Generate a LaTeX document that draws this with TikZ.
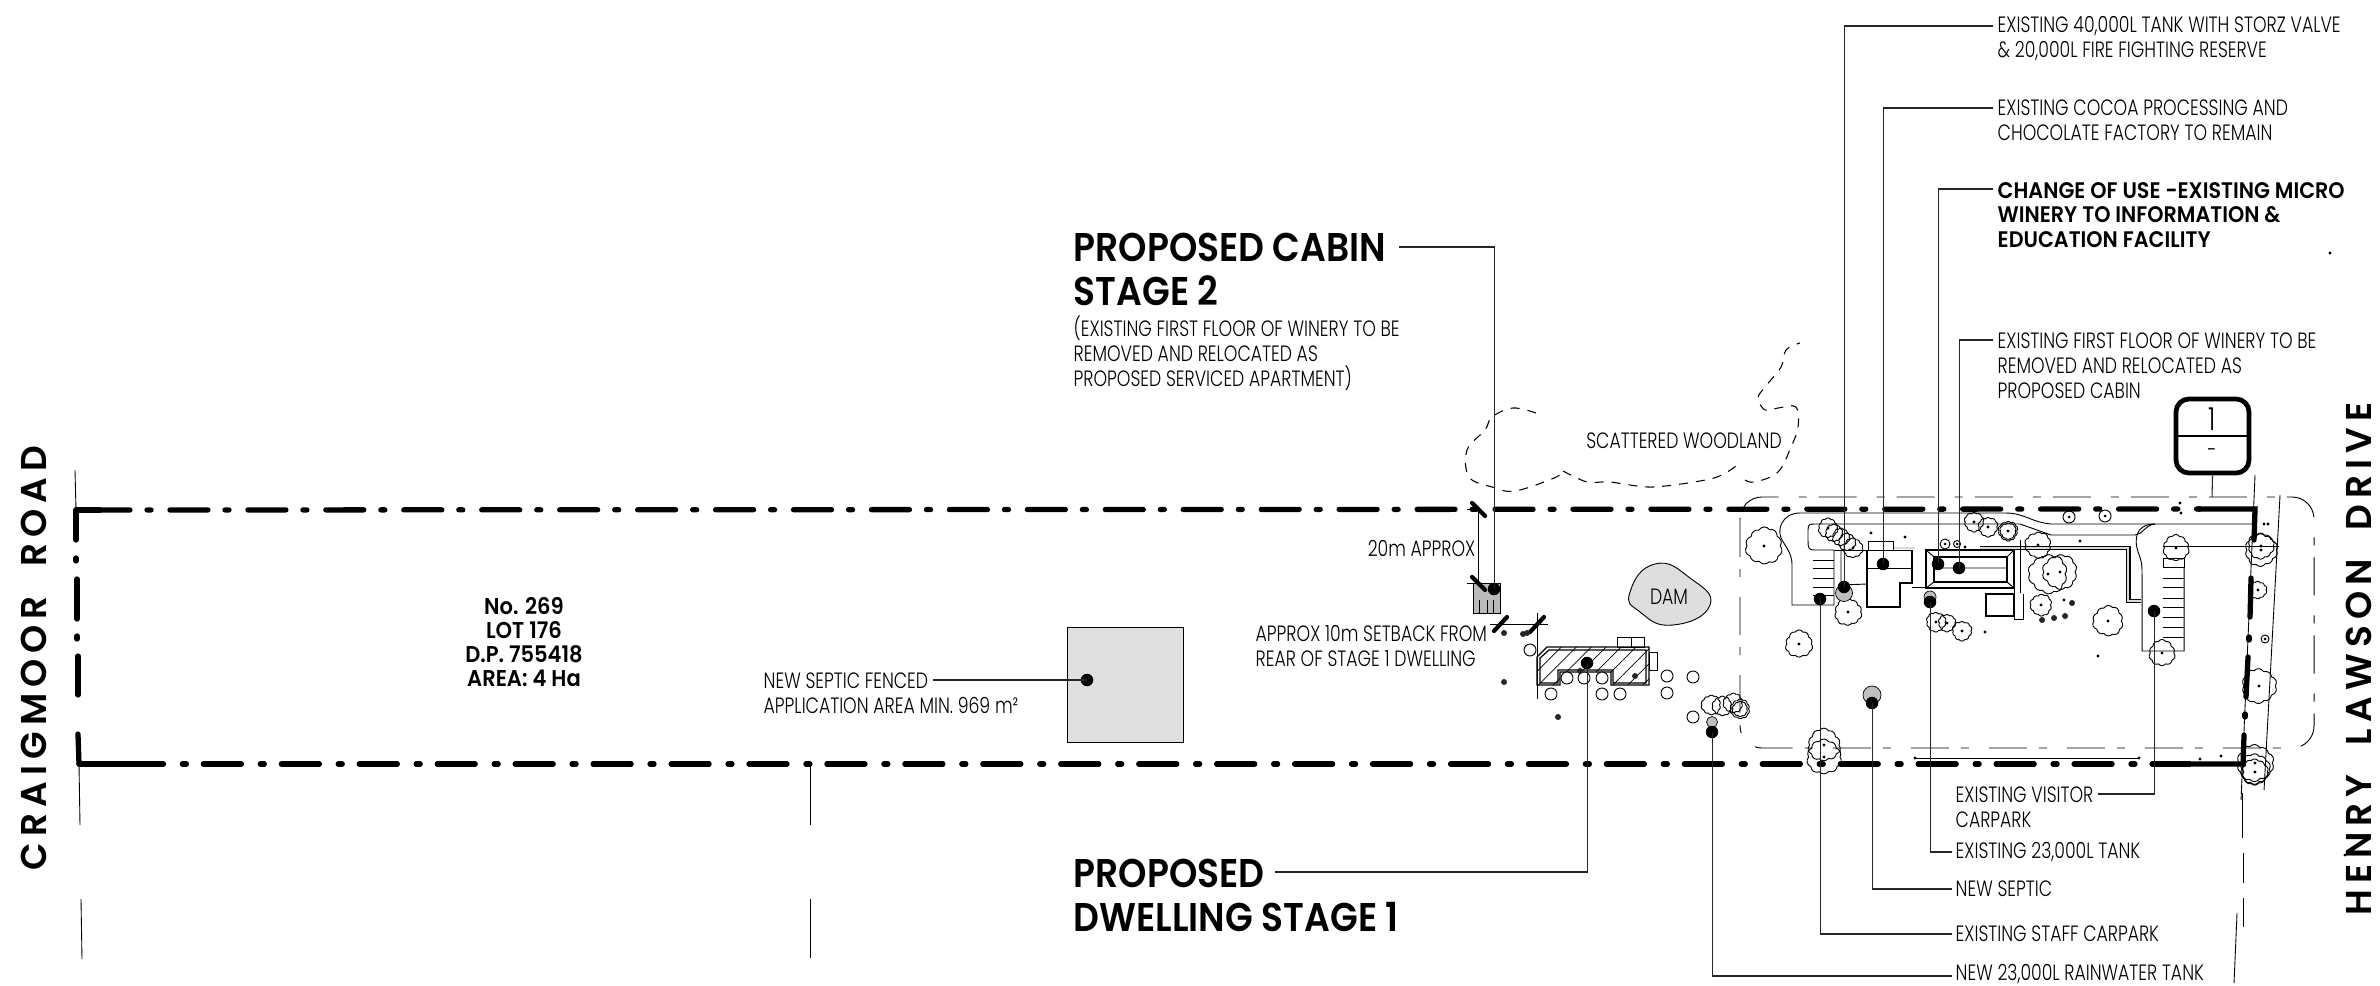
\documentclass[tikz,border=0pt]{standalone}
\usepackage{fontspec}
\usetikzlibrary{patterns.meta}
\setmainfont{Poppins}[UprightFont={* Light},BoldFont={* SemiBold},FakeStretch=0.78]
\newfontfamily\roadfont{Poppins}[UprightFont={* SemiBold},LetterSpace=17,WordSpace=2]
\newfontfamily\headfont{Poppins}[UprightFont={* SemiBold},FakeStretch=0.9]
\newfontfamily\boldnote{Poppins}[UprightFont={* SemiBold},FakeStretch=0.92]
\newcommand{\treePlain}[3]{%
  \draw[thinline] plot[smooth cycle,domain=0:351,samples=40]
    ({#1+#3*(.98+.11*abs(sin(5*\x))+.04*sin(3*\x+#1))*cos(\x)},{#2+#3*(.98+.11*abs(sin(5*\x))+.04*sin(3*\x+#1))*sin(\x)});}
\newcommand{\treeAt}[3]{\treePlain{#1}{#2}{#3}\fill (#1,#2) circle (1.6);}
\tikzset{
  thinline/.style={line width=0.26pt,black},
  leader/.style={line width=0.3pt,black!85},
  bound/.style={line width=1.5pt,line cap=round,dash pattern=on 0.38cm off 0.17cm on 0.04cm off 0.189cm},
  boundsolid/.style={line width=1.5pt,line cap=round},
  setback/.style={line width=0.26pt,dash pattern=on 0.38cm off 0.12cm on 0.08cm off 0.2cm},
  tick/.style={line width=1.2pt,line cap=round},
  leaderdot/.style={circle,fill=black,inner sep=0pt,minimum size=0.125cm},
  tankshade/.style={circle,draw=black,line width=0.2pt,fill=black!25,inner sep=0pt},
  note/.style={anchor=west,align=left,inner sep=0pt,font=\fontsize{6.3}{7.1}\selectfont},
  notebold/.style={anchor=west,align=left,inner sep=0pt,font=\fontsize{6.4}{6.9}\selectfont\boldnote},
  head/.style={anchor=west,align=left,inner sep=0pt,font=\fontsize{11.4}{12.5}\selectfont\headfont},
  lot/.style={align=center,inner sep=0pt,font=\fontsize{6.5}{6.85}\selectfont\boldnote},
  road/.style={rotate=90,inner sep=0pt,font=\fontsize{10.2}{12}\selectfont\roadfont},
  dim/.style={line width=0.25pt,black},
  woods/.style={line width=0.3pt,dash pattern=on 0.09cm off 0.08cm},
}
\begin{document}
\begin{tikzpicture}[x=0.01cm,y=-0.01cm]
\useasboundingbox (0,0) rectangle (2380,985);
\fill[white] (0,0) rectangle (2380,985);

% ---- thin road lines
\draw[dim] (75,470) -- (76,510);
\draw[dim] (79,764) -- (80,825);
\draw[dim] (81,899) -- (82,959);
\draw[dim] (810,764) -- (810,825);
\draw[dim] (810,899) -- (810,958);
\draw[dim] (2255,475) -- (2241,800);
\draw[dim] (2280,495) -- (2264,790);
\draw[dim] (2242,793) -- (2242,838);
\draw[dim] (2243,853) -- (2243,883);
\draw[dim] (2243,898) -- (2243,927);
\draw[dim] (2237,913) -- (2234,983);

% ---- setback line
\draw[setback,rounded corners=0.22cm] (1740,497) rectangle (2314,748);

% ---- boundary
\draw[boundsolid] (76,510) -- (100,510);
\draw[bound] (92,510) -- (2200,509);
\draw[boundsolid] (2198,509) -- (2255,509) -- (2254,540);
\draw[boundsolid] (2251,578) -- (2250,617);
\draw[boundsolid] (2249,637) -- (2249,640);
\draw[boundsolid] (2248,657) -- (2246,697);
\draw[boundsolid] (2245,714) -- (2245,717);
\draw[boundsolid] (2244,735) -- (2243,764) -- (2192,764);
\draw[bound] (2190,764) -- (90,764);
\draw[boundsolid] (79,764) -- (131,764);
\draw[boundsolid] (79,764) -- (78,734);
\draw[boundsolid] (78,695) -- (78,656);
\draw[boundsolid] (77,639) -- (77,636);
\draw[boundsolid] (77,619) -- (77,579);
\draw[boundsolid] (76,561) -- (76,558);
\draw[boundsolid] (76,540) -- (76,510);

% ---- septic square
\draw[thinline,fill=black!12] (1067,627) rectangle (1183,742);

% ---- cabin and dimensions
\draw[thinline,fill=black!27] (1473,583) rectangle (1500,613);
\draw[thinline] (1479,600) -- (1479,613) (1487,600) -- (1487,613) (1493,600) -- (1493,613);
\draw[dim] (1478,509) -- (1478,583);
\draw[dim] (1467,509) -- (1476,509);
\draw[dim] (1467,583) -- (1500,583);
\draw[dim] (1490,624) -- (1548,624);
\draw[dim] (1537,613) -- (1537,699);
\draw[tick] (1472,503) -- (1485,516);
\draw[tick] (1472,577) -- (1485,590);
\draw[tick] (1494,631) -- (1507,617);
\draw[tick] (1530,632) -- (1544,617);

% ---- dam
\draw[thinline,fill=black!13] plot[smooth cycle,tension=0.9] coordinates {(1630,592) (1655,564) (1690,578) (1710,605) (1673,625) (1640,612)};

% ---- dwelling
\draw[line width=0.35pt,pattern={Lines[angle=45,distance=3pt,line width=0.2pt]}] (1537,657) -- (1547,647) -- (1649,647) -- (1649,685) -- (1611,685) -- (1611,672) -- (1560,672) -- (1560,685) -- (1537,685) -- cycle;
\draw[line width=0.35pt] (1540,658) -- (1549,650) -- (1646,650) -- (1646,683) -- (1613,683) -- (1613,670) -- (1558,670) -- (1558,683) -- (1540,683) -- cycle;
\draw[thinline] (1617,647) rectangle (1644,637) (1631,637) -- (1631,647);
\draw[thinline] (1649,652) rectangle (1657,670);
\foreach \cx/\cy in {1530/650,1551/694,1567/678,1584/678,1602/678,1602/694,1620/694,1667/676,1693/677,1667/693,1693/717}
  \draw[thinline,fill=white] (\cx,\cy) circle (6);
\foreach \cx/\cy in {1504/633,1523/634,1527/633,1504/682,1558/717,1580/671,1635/676,2072/603,2042/620,2054/618,2065/616}
  \fill[black!85] (\cx,\cy) circle (3);

% ---- driveway and carparks
\draw[thinline] (2255,524) -- (2051,524) .. controls (2030,522) and (2025,513) .. (2005,513) -- (1800,513) .. controls (1782,513) and (1776,530) .. (1782,540) .. controls (1788,550) and (1792,555) .. (1792,565) -- (1792,605) -- (1834,605) -- (1834,550);
\draw[thinline] (1834,550) -- (1815,550) .. controls (1808,550) and (1808,548) .. (1808,540) -- (1808,530) .. controls (1808,524) and (1810,524) .. (1815,524) -- (2020,524) -- (2051,535) -- (2135,535) .. controls (2142,535) and (2145,525) .. (2155,524);
\draw[thinline] (2155,524) .. controls (2135,524) and (2134,540) .. (2138,552) .. controls (2142,562) and (2142,565) .. (2142,575) -- (2142,651) -- (2184,651) -- (2184,567);
\draw[thinline] (2163,558) rectangle (2184,567);
\foreach \ty in {578,587,598,607,617,627,637}
  \draw[thinline] (2163,\ty) -- (2184,\ty);
\foreach \ty in {560,568,578,587,595}
  \draw[thinline] (1813,\ty) -- (1834,\ty);
\draw[thinline] (2163,546) -- (2279,546);
\draw[thinline] (1915,758) -- (2139,758);
\fill (1915,758) circle (1.6) (2139,758) circle (1.6);
% grey walkway
\draw[line width=1.4pt] (1980,548) -- (2128,548) -- (2128,601) -- (2141,601);
\draw[line width=0.8pt,black!15] (1980,548) -- (2128,548) -- (2128,601) -- (2141,601);
\draw[line width=0.8pt,black!15,draw=black!15] (1893,548) -- (1915,548);
% chocolate factory
\draw[thinline] (1834,550) -- (1912,550);
\draw[line width=0.45pt] (1867,550) -- (1867,607) -- (1900,607) -- (1900,583) -- (1912,583) -- (1912,550);
\draw[thinline] (1868,541) rectangle (1893,550);
\draw[thinline] (1841,550) -- (1841,585) -- (1867,584);
\draw[thinline] (1867,568) -- (1912,568);
\draw[thinline] (1912,587) -- (1926,587);
% winery
\draw[line width=0.7pt,fill=black!2] (1926,550) rectangle (2014,588);
\draw[line width=0.45pt,fill=white] (1934,557) rectangle (2007,582);
\draw[thinline] (1926,550) -- (1934,557) (2014,550) -- (2007,557) (1926,588) -- (1934,582) (2014,588) -- (2007,582) (1934,568) -- (2007,568);
\draw[thinline] (2020,540) -- (2020,593);
\draw[line width=0.4pt] (1986,594) rectangle (2014,616);
\draw[thinline] (2023,594) -- (2023,619) -- (2014,619);
\draw[thinline] (2014,588) -- (2014,619);

% ---- vegetation
\treeAt{1764}{546}{17}
\treeAt{1848}{612}{12.5}
\treeAt{1799}{644}{12.5}
\treeAt{2041}{605}{10}
\treeAt{2108}{621}{14}
\treeAt{2176}{548}{12}
\treeAt{2162}{653}{12}
\treeAt{2038}{545}{12}
\treeAt{2048}{574}{18}
\treeAt{2060}{572}{16}
\treeAt{2261}{550}{15}
\treeAt{2261}{546}{12}
\treeAt{2258}{590}{8}
\treeAt{2259}{686}{16}
\treeAt{2255}{763}{17}
\treePlain{2255}{769}{14}
\treeAt{2255}{772}{12}
\treeAt{1824}{745}{15}
\treeAt{1824}{757}{16}
\treeAt{1828}{528}{9}
\treePlain{1834}{533}{8}
\treePlain{1841}{537}{8}
\treePlain{1847}{542}{8}
\treeAt{1853}{548}{9}
\treeAt{1974}{522}{9}
\treeAt{1988}{527}{9}
\treeAt{2008}{531}{9}
\treePlain{2008}{531}{7.5}
\treeAt{1936}{622}{9}
\treeAt{1947}{623}{8}
\treeAt{1962}{631}{9}
\treePlain{1711}{705}{9}
\treePlain{1722}{706}{9}
\treePlain{1733}{703}{9}
\treePlain{1740}{709}{9}
\treePlain{1740}{709}{7}
\foreach \cx/\cy/\cr in {2069/517/6,2105/516/6,1945/544/5,1957/544/3.5,2265/639/4}{
  \draw[thinline] (\cx,\cy) circle (\cr);
  \fill (\cx,\cy) circle (1.5);}
\foreach \cx/\cy in {1871/533,1905/537,1965/547,2080/541,1985/632,2098/656,2200/759,2221/756,2180/503,2179/509,2181/513,2264/524,2268/524,2064/600,2330/253,2345/855}
  \fill (\cx,\cy) circle (1.6);

% ---- woodland
\draw[woods] plot[smooth,tension=0.6] coordinates {(1536,413) (1513,408) (1492,417) (1485,430) (1467,450) (1469,477) (1492,487) (1515,491) (1554,478) (1563,471)};
\draw[woods] plot[smooth,tension=0.5] coordinates {(1563,471) (1587,482) (1610,482) (1653,487) (1714,478) (1740,463)};
\draw[woods] plot[smooth,tension=0.6] coordinates {(1745,480) (1755,482) (1778,472) (1791,447) (1798,427) (1796,407) (1778,408) (1765,410) (1758,398) (1765,387) (1781,367) (1786,350) (1800,343)};
\node[anchor=center,inner sep=0pt,font=\fontsize{6.3}{7.1}\selectfont] (woodland) at (1684,441) {SCATTERED WOODLAND};

% ---- section marker
\node[draw,line width=1.35pt,rounded corners=0.13cm,minimum width=0.73cm,minimum height=0.74cm,inner sep=0pt] (sec) at (2212.5,436) {};
\draw[line width=0.4pt] (sec.west) -- (sec.east);
\node[inner sep=0pt,font=\fontsize{9}{10}\selectfont] (secn) at (2212,419) {1};
\node[inner sep=0pt,font=\fontsize{6.3}{7.1}\selectfont] (secd) at (2212,453) {-};
\coordinate (secend) at (2212,497);
\draw[leader] (sec.south) -- (secend);

% ---- dots
\node[tankshade,minimum size=0.17cm] (g1) at (1844,593) {};
\node[tankshade,minimum size=0.18cm] (g2) at (1872,695) {};
\node[tankshade,minimum size=0.12cm] (g3) at (1930,597) {};
\node[tankshade,minimum size=0.11cm] (g4) at (1712,722) {};
\node[leaderdot] (d1) at (1844,587) {};
\node[leaderdot] (d2) at (1883,564) {};
\node[leaderdot] (d3) at (1938,564) {};
\node[leaderdot] (d4) at (1959,568) {};
\node[leaderdot] (d5) at (1820,599) {};
\node[leaderdot] (d6) at (1872,703) {};
\node[leaderdot] (d7) at (1930,602) {};
\node[leaderdot] (d8) at (2154,611) {};
\node[leaderdot] (d9) at (1712,732) {};
\node[leaderdot] (d10) at (1587,663) {};
\node[leaderdot] (d11) at (1494,589) {};
\node[leaderdot] (d12) at (1087,680) {};

% ---- labels
\node[note] (l1) at (1997,38.5) {EXISTING 40,000L TANK WITH STORZ VALVE\\\& 20,000L FIRE FIGHTING RESERVE};
\node[note] (l2) at (1997,120) {EXISTING COCOA PROCESSING AND\\CHOCOLATE FACTORY TO REMAIN};
\node[notebold] (l3) at (1997,215) {CHANGE OF USE -EXISTING MICRO\\WINERY TO INFORMATION \&\\EDUCATION FACILITY};
\node[note] (l4) at (1997,365.5) {EXISTING FIRST FLOOR OF WINERY TO BE\\REMOVED AND RELOCATED AS\\PROPOSED CABIN};
\node[note] (l5) at (1955,934) {EXISTING STAFF CARPARK};
\node[note] (l6) at (1955,889) {NEW SEPTIC};
\node[note] (l7) at (1955,852) {EXISTING 23,000L TANK};
\node[note] (l8) at (1955,807) {EXISTING VISITOR\\CARPARK};
\node[note] (l9) at (1955,974) {NEW 23,000L RAINWATER TANK};
\node[head] (l10) at (1073,895) {PROPOSED\\DWELLING STAGE 1};
\node[head] (l11) at (1073,269) {PROPOSED CABIN\\STAGE 2};
\node[note] (l11b) at (1073,353) {(EXISTING FIRST FLOOR OF WINERY TO BE\\REMOVED AND RELOCATED AS\\PROPOSED SERVICED APARTMENT)};
\node[note] (l12) at (763,693) {NEW SEPTIC FENCED\\APPLICATION AREA MIN. 969 m²};
\node[note,anchor=east] (l13) at (1476,548) {20m APPROX};
\node[note] (l14) at (1255,646) {APPROX 10m SETBACK FROM\\REAR OF STAGE 1 DWELLING};
\node[inner sep=0pt,font=\fontsize{6.3}{7.1}\selectfont] (dam) at (1669,597) {DAM};
\node[lot] (lot) at (524,642) {No. 269\\LOT 176\\D.P. 755418\\AREA: 4 Ha};
\node[road] (r1) at (34,658) {CRAIGMOOR ROAD};
\node[road] (r2) at (2359,659) {HENRY LAWSON DRIVE};

% ---- leader ends
\coordinate (c1) at (1993,26);
\coordinate (c2) at (1993,108);
\coordinate (c3) at (1993,189);
\coordinate (c4) at (1993,340);
\coordinate (c5) at (1952,934);
\coordinate (c6) at (1952,889);
\coordinate (c7) at (1952,852);
\coordinate (c8) at (2098,794);
\coordinate (c9) at (1952,976);
\coordinate (c10) at (1275,872);
\coordinate (c11) at (1399,247);
\coordinate (c12) at (933,680);
\foreach \i in {1,...,12}
  \draw[leader] (c\i) -| (d\i.center);
\end{tikzpicture}
\end{document}
